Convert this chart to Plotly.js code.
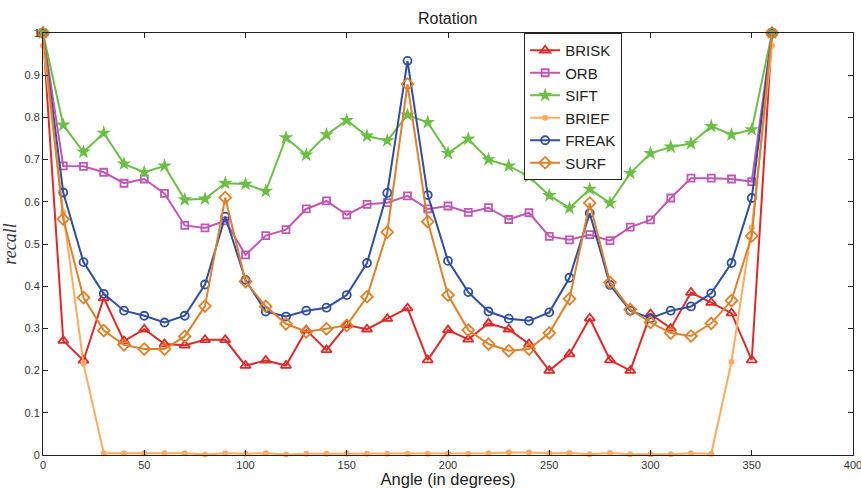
<!DOCTYPE html>
<html>
<head>
<meta charset="utf-8">
<script src="https://cdn.plot.ly/plotly-3.0.1.min.js"></script>
<style>html,body{margin:0;padding:0;background:#fff;}#chart{width:861px;height:488px;}</style>
</head>
<body>
<div id="chart"></div>
<script>
const angles = [0,10,20,30,40,50,60,70,80,90,100,110,120,130,140,150,160,170,180,190,200,210,220,230,240,250,260,270,280,290,300,310,320,330,340,350,360];
const brisk = [1.0,0.271,0.224,0.372,0.270,0.298,0.263,0.260,0.273,0.273,0.212,0.224,0.212,0.296,0.249,0.308,0.298,0.323,0.348,0.225,0.296,0.274,0.312,0.298,0.263,0.200,0.239,0.324,0.225,0.200,0.334,0.300,0.385,0.361,0.336,0.225,1.0];
const orb = [1.0,0.685,0.684,0.670,0.644,0.654,0.620,0.544,0.538,0.555,0.474,0.520,0.534,0.583,0.602,0.569,0.594,0.598,0.614,0.583,0.590,0.575,0.586,0.558,0.574,0.518,0.510,0.522,0.508,0.540,0.557,0.609,0.656,0.656,0.654,0.648,1.0];
const sift = [1.0,0.782,0.718,0.763,0.690,0.670,0.685,0.605,0.607,0.644,0.642,0.625,0.752,0.711,0.759,0.793,0.756,0.745,0.806,0.788,0.715,0.749,0.700,0.685,0.660,0.615,0.585,0.630,0.597,0.668,0.715,0.730,0.738,0.779,0.759,0.771,1.0];
const brief = [0.970,0.575,0.216,0.004,0.004,0.004,0.004,0.004,0.001,0.004,0.003,0.004,0.001,0.003,0.003,0.003,0.003,0.003,0.003,0.003,0.003,0.003,0.004,0.006,0.006,0.004,0.005,0.002,0.005,0.002,0.002,0.002,0.004,0.003,0.221,0.539,0.970];
const freak = [1.0,0.622,0.457,0.382,0.342,0.330,0.314,0.330,0.404,0.565,0.415,0.340,0.328,0.342,0.349,0.379,0.455,0.621,0.934,0.616,0.460,0.386,0.340,0.323,0.318,0.338,0.420,0.573,0.403,0.342,0.324,0.342,0.352,0.383,0.455,0.609,1.0];
const surf = [1.0,0.559,0.373,0.295,0.261,0.251,0.251,0.281,0.353,0.610,0.411,0.352,0.311,0.292,0.299,0.307,0.375,0.528,0.879,0.553,0.379,0.296,0.263,0.247,0.251,0.289,0.370,0.597,0.409,0.345,0.314,0.289,0.282,0.312,0.366,0.519,1.0];
const xTicks = [0,50,100,150,200,250,300,350,400];

const names = ['BRISK','ORB','SIFT','BRIEF','FREAK','SURF'];
const colors = ['#dd2a2a','#c256b5','#6cbf45','#ffab5e','#2f4fa6','#e08028'];
const symbols = ['triangle-up-open','square-open','star','circle','circle-open','diamond-open'];
const sizes = [9,7,11,6,8,9];
const series = [brisk, orb, sift, brief, freak, surf];

const traces = series.map((ys, i) => ({
  x: angles, y: ys, name: names[i], type: 'scatter', mode: 'lines+markers',
  cliponaxis: false,
  line: {color: colors[i], width: 2},
  marker: {symbol: symbols[i], size: sizes[i], color: colors[i], line: {color: colors[i], width: (symbols[i].indexOf('open')>=0 ? 1.8 : 0)}}
}));

const axisCommon = {
  showgrid: false, zeroline: false, showline: true, linecolor: '#222', linewidth: 1,
  mirror: 'ticks', ticks: 'inside', ticklen: 5, tickcolor: '#222',
  ticklabeloverflow: 'allow',
  tickfont: {family: 'Liberation Sans, Arial, sans-serif', size: 11, color: '#333'}
};

const layout = {
  width: 861, height: 488,
  margin: {l: 43, r: 8, t: 33, b: 33, pad: 0},
  paper_bgcolor: '#fff', plot_bgcolor: '#fff',
  font: {family: 'Liberation Sans, Arial, sans-serif', color: '#222'},
  title: {text: 'Rotation', x: 0.52, xanchor: 'center', y: 0.963, yanchor: 'middle', font: {size: 16, color: '#222'}},
  xaxis: Object.assign({}, axisCommon, {range: [0, 400], tickvals: xTicks,
    title: {text: 'Angle (in degrees)', standoff: 5, font: {size: 16.5, color: '#222'}}}),
  yaxis: Object.assign({}, axisCommon, {range: [0, 1], dtick: 0.1, tick0: 0,
    title: {text: 'recall', standoff: 6, font: {family: 'Liberation Serif, DejaVu Serif, serif', size: 18, style: 'italic', color: '#333'}}}),
  showlegend: true,
  legend: {x: 0.594, xanchor: 'left', y: 1, yanchor: 'top', bgcolor: '#fff', bordercolor: '#222', borderwidth: 1,
    font: {size: 15, color: '#222'}, tracegroupgap: 0, itemwidth: 30}
};

Plotly.newPlot('chart', traces, layout, {displayModeBar: false, staticPlot: true});
</script>
</body>
</html>
